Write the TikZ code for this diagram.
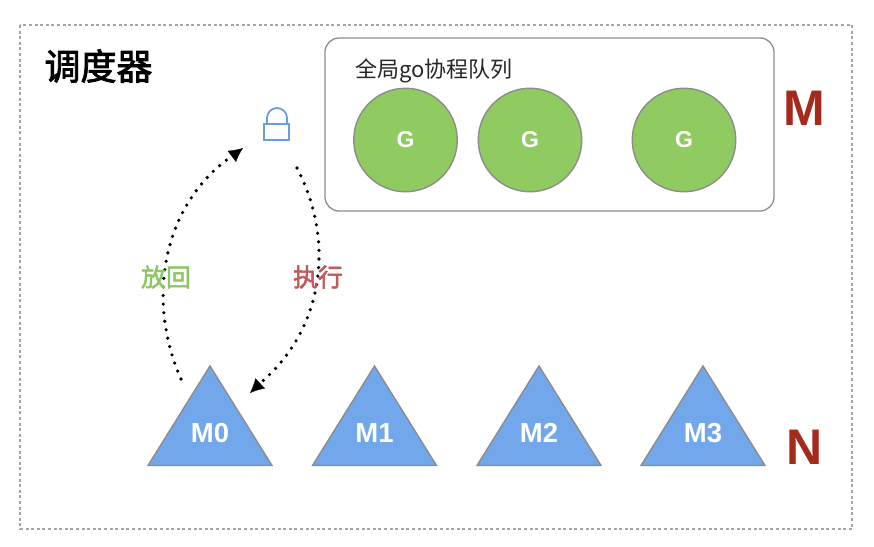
\documentclass[tikz,border=0pt]{standalone}
\usepackage{fontspec}
\setmainfont{Liberation Sans}
\newfontfamily\cjk{Noto Sans CJK SC}
\newfontfamily\cjkmed[FakeBold=2]{Noto Sans CJK SC}
\newfontfamily\cjktitle[FakeBold=2.2]{Noto Sans CJK SC}
\usetikzlibrary{arrows.meta}
\definecolor{gfill}{HTML}{90CB62}
\definecolor{mfill}{HTML}{72A7EC}
\definecolor{lockc}{HTML}{6A9CE0}
\definecolor{bigred}{HTML}{A52A1C}
\definecolor{backc}{HTML}{8CC665}
\definecolor{execc}{HTML}{BF5A5A}
\definecolor{edgec}{HTML}{8C8C8C}
\tikzset{
 px/.style={x=1pt,y=-1pt},
 gcirc/.style={circle,draw=edgec,line width=1.4pt,fill=gfill,minimum size=103.5pt,inner sep=0pt,text=white,font=\bfseries\fontsize{23}{26}\selectfont},
 mtri/.style={draw=edgec,line width=1.4pt,fill=mfill},
 mlabel/.style={text=white,font=\bfseries\fontsize{27.5}{30}\selectfont,inner sep=0pt},
 biglabel/.style={text=bigred,font=\bfseries\fontsize{50}{56}\selectfont,inner sep=0pt},
 dotarrow/.style={line width=3.6pt,line cap=round,dash pattern=on 0pt off 8.6pt},
 tiparrow/.style={-{Latex[length=14pt,width=14pt]}},
 cjklabel/.style={inner sep=0pt}
}
\begin{document}
\begin{tikzpicture}[px]
\useasboundingbox (0,0) rectangle (874,546);
\fill[white] (0,0) rectangle (874,546);
\draw[black!35,line width=1.1pt,dash pattern=on 3pt off 2.6pt] (20,25) rectangle (852,529);
\node[cjklabel,font=\cjktitle\fontsize{36}{40}\selectfont] (title) at (98.5,66) {调度器};
\draw[edgec,line width=1.3pt,rounded corners=14pt] (325,38) rectangle (774,211);
\node[cjklabel,font=\cjk\fontsize{22}{26}\selectfont,text=black!85] (qlabel) at (434,71) {全局go协程队列};
\node[gcirc] (g1) at (405.5,140) {G};
\node[gcirc] (g2) at (530,140) {G};
\node[gcirc] (g3) at (684,140) {G};
\node[biglabel] (bigm) at (804,108) {M};
\node[biglabel] (bign) at (804.5,447) {N};
\foreach \x/\n in {210/0,374.5/1,539/2,703/3}{
 \draw[mtri] (\x,366) -- (\x+62,465.5) -- (\x-62,465.5) -- cycle;
 \node[mlabel] (m\n) at (\x,433) {M\n};
}
% lock
\node[draw=lockc,line width=1.8pt,minimum width=25pt,minimum height=16pt,inner sep=0pt] (lock) at (276.5,132) {};
\draw[lockc,line width=1.8pt] (267,124) -- (267,118) arc[start angle=180,end angle=360,radius=10] -- (287,124);
\coordinate (a1) at (181,379);
\coordinate (a2) at (243,148);
\coordinate (b1) at (297,168);
\coordinate (b2) at (250,393);
\draw[dotarrow] (a1) .. controls (146,300) and (162,205) .. (232,156);
\draw[tiparrow] (233,155.5) -- (a2);
\draw[dotarrow] (b1) .. controls (335,240) and (325,330) .. (258,385);
\draw[tiparrow] (259,384.5) -- (b2);
\node[cjklabel,font=\cjkmed\fontsize{25}{29}\selectfont,text=backc] (back) at (166,277) {放回};
\node[cjklabel,font=\cjkmed\fontsize{25}{29}\selectfont,text=execc] (exec) at (318,277) {执行};
\end{tikzpicture}
\end{document}
